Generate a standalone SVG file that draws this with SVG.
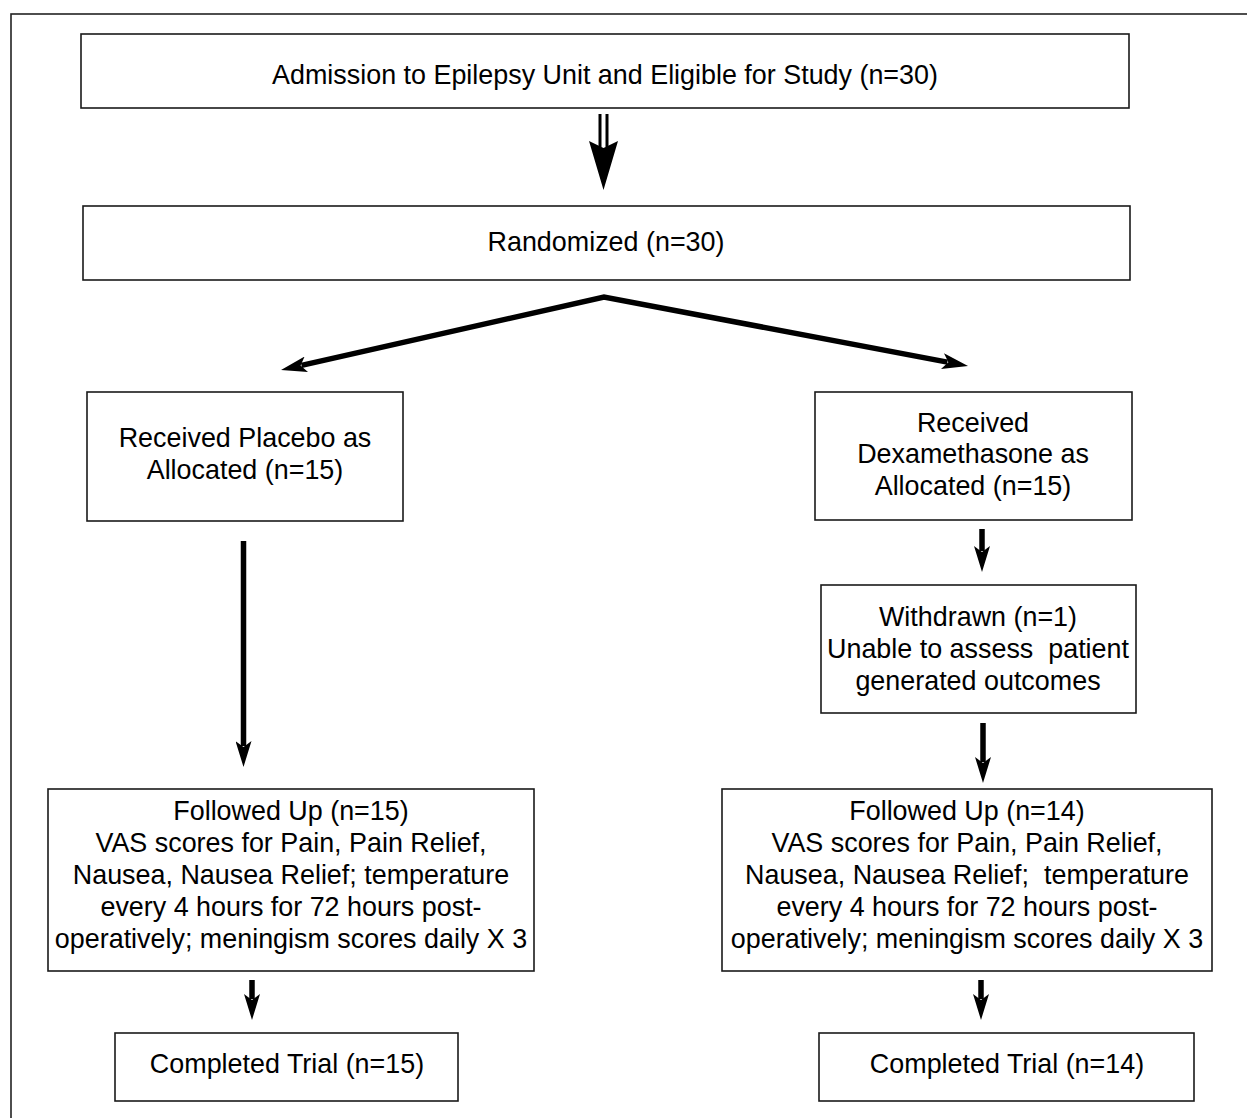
<svg xmlns="http://www.w3.org/2000/svg" width="1247" height="1118" viewBox="0 0 1247 1118">
<style>
.box{fill:#fff;stroke:#1a1a1a;stroke-width:1.6}
.frame{fill:#fff;stroke:#222;stroke-width:1.6}
text{font-family:"Liberation Sans",Arial,Helvetica,sans-serif;font-size:26.9px;fill:#000;text-anchor:middle}
.arr{stroke:#000;stroke-width:5.5;fill:none;stroke-linejoin:miter}
</style>
<defs>
<marker id="ah" markerUnits="userSpaceOnUse" viewBox="0 0 26 16" refX="5" refY="8" markerWidth="26" markerHeight="16" orient="auto-start-reverse">
<path d="M0,0 L26,8 L0,16 L6,8 Z" fill="#000"/>
</marker>
</defs>
<rect class="frame" x="11" y="14" width="1260" height="1130"/>

<g id="n-admission">
<rect class="box" x="81" y="34" width="1048" height="74"/>
<text x="605" y="84">Admission to Epilepsy Unit and Eligible for Study (n=30)</text>
</g>
<g id="n-randomized">
<rect class="box" x="83" y="206" width="1047" height="74"/>
<text x="606" y="251">Randomized (n=30)</text>
</g>
<g id="n-placebo">
<rect class="box" x="87" y="392" width="316" height="129"/>
<text x="245" y="447">Received Placebo as</text>
<text x="245" y="479">Allocated (n=15)</text>
</g>
<g id="n-dexa">
<rect class="box" x="815" y="392" width="317" height="128"/>
<text x="973" y="432">Received</text>
<text x="973" y="463">Dexamethasone as</text>
<text x="973" y="495">Allocated (n=15)</text>
</g>
<g id="n-withdrawn">
<rect class="box" x="821" y="585" width="315" height="128"/>
<text x="978" y="626">Withdrawn (n=1)</text>
<text x="978" y="658">Unable to assess &#160;patient</text>
<text x="978" y="690">generated outcomes</text>
</g>
<g id="n-follow-left">
<rect class="box" x="48" y="789" width="486" height="182"/>
<text x="291" y="820">Followed Up (n=15)</text>
<text x="291" y="852">VAS scores for Pain, Pain Relief,</text>
<text x="291" y="884">Nausea, Nausea Relief; temperature</text>
<text x="291" y="916">every 4 hours for 72 hours post-</text>
<text x="291" y="948">operatively; meningism scores daily X 3</text>
</g>
<g id="n-follow-right">
<rect class="box" x="722" y="789" width="490" height="182"/>
<text x="967" y="820">Followed Up (n=14)</text>
<text x="967" y="852">VAS scores for Pain, Pain Relief,</text>
<text x="967" y="884">Nausea, Nausea Relief; &#160;temperature</text>
<text x="967" y="916">every 4 hours for 72 hours post-</text>
<text x="967" y="948">operatively; meningism scores daily X 3</text>
</g>
<g id="n-complete-left">
<rect class="box" x="115" y="1033" width="343" height="68"/>
<text x="287" y="1073">Completed Trial (n=15)</text>
</g>
<g id="n-complete-right">
<rect class="box" x="819" y="1033" width="375" height="68"/>
<text x="1007" y="1073">Completed Trial (n=14)</text>
</g>

<g id="connectors">
<line x1="600" y1="114" x2="600" y2="147" stroke="#000" stroke-width="3"/>
<line x1="607" y1="114" x2="607" y2="147" stroke="#000" stroke-width="3"/>
<path d="M589,141 L603.5,148 L618,141 L603.5,190 Z" fill="#000"/>
<polyline class="arr" points="301.5,365.4 604,297 947.4,362.1" marker-start="url(#ah)" marker-end="url(#ah)"/>
<line class="arr" x1="243.5" y1="541" x2="243.5" y2="746" marker-end="url(#ah)"/>
<line class="arr" x1="982" y1="529" x2="982" y2="551" marker-end="url(#ah)"/>
<line class="arr" x1="983" y1="723" x2="983" y2="762" marker-end="url(#ah)"/>
<line class="arr" x1="252" y1="980" x2="252" y2="999" marker-end="url(#ah)"/>
<line class="arr" x1="981" y1="980" x2="981" y2="999" marker-end="url(#ah)"/>
</g>
</svg>
